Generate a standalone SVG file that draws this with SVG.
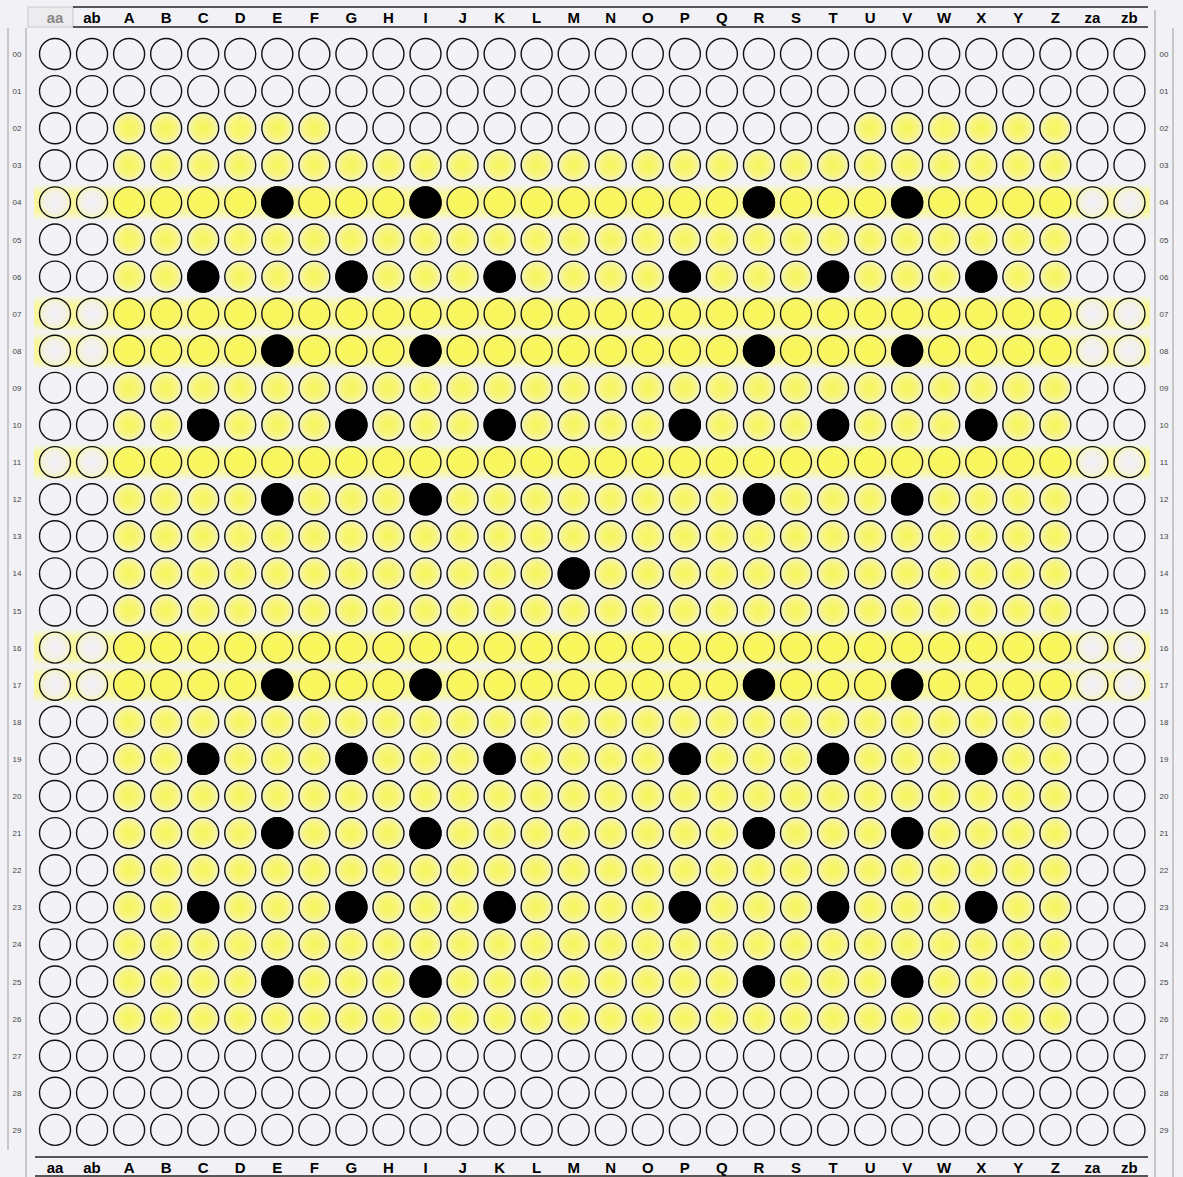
<svg xmlns="http://www.w3.org/2000/svg" xmlns:xlink="http://www.w3.org/1999/xlink" width="1183" height="1177" viewBox="0 0 1183 1177">
<style>
.w{fill:#f3f2f7;stroke:#111;stroke-width:1.4}
.y{fill:url(#gy);stroke:#111;stroke-width:1.4}
.h{fill:url(#gh);stroke:#111;stroke-width:1.4}
.he{fill:url(#ghe);stroke:#111;stroke-width:1.4}
.b{fill:#000;stroke:#000;stroke-width:1.4}
.cl{font-family:"Liberation Sans",Arial,sans-serif;font-weight:bold;font-size:15px;text-anchor:middle;fill:#000}
.rl{font-family:"Liberation Sans",Arial,sans-serif;font-size:8px;text-anchor:middle;fill:#444}
.ln{stroke:#222;stroke-width:1.5;fill:none}
.lg{stroke:#aaa;stroke-width:1.2;fill:none}
</style>
<defs>
<radialGradient id="gy" cx="0.5" cy="0.5" r="0.5">
<stop offset="0" stop-color="#f7f55a"/><stop offset="0.6" stop-color="#f7f57a"/><stop offset="1" stop-color="#f3f2c4"/>
</radialGradient>
<radialGradient id="gh" cx="0.5" cy="0.5" r="0.5">
<stop offset="0" stop-color="#f8f654"/><stop offset="1" stop-color="#f8f66a"/>
</radialGradient>
<radialGradient id="ghe" cx="0.5" cy="0.5" r="0.5">
<stop offset="0" stop-color="#f0eef9"/><stop offset="0.7" stop-color="#f3f1e4"/><stop offset="1" stop-color="#f6f5b8"/>
</radialGradient>
<linearGradient id="band" x1="0" y1="0" x2="0" y2="1">
<stop offset="0" stop-color="#f8f8b0" stop-opacity="0"/><stop offset="0.25" stop-color="#f8f7a0"/><stop offset="0.75" stop-color="#f8f7a0"/><stop offset="1" stop-color="#f8f8b0" stop-opacity="0"/>
</linearGradient>
<g id="rowW">
<circle class="w" cx="55" cy="0" r="15.5"/><circle class="w" cx="92.05" cy="0" r="15.5"/><circle class="w" cx="129.1" cy="0" r="15.5"/><circle class="w" cx="166.15" cy="0" r="15.5"/><circle class="w" cx="203.2" cy="0" r="15.5"/><circle class="w" cx="240.25" cy="0" r="15.5"/><circle class="w" cx="277.3" cy="0" r="15.5"/><circle class="w" cx="314.35" cy="0" r="15.5"/><circle class="w" cx="351.4" cy="0" r="15.5"/><circle class="w" cx="388.45" cy="0" r="15.5"/><circle class="w" cx="425.5" cy="0" r="15.5"/><circle class="w" cx="462.55" cy="0" r="15.5"/><circle class="w" cx="499.6" cy="0" r="15.5"/><circle class="w" cx="536.65" cy="0" r="15.5"/><circle class="w" cx="573.7" cy="0" r="15.5"/><circle class="w" cx="610.75" cy="0" r="15.5"/><circle class="w" cx="647.8" cy="0" r="15.5"/><circle class="w" cx="684.85" cy="0" r="15.5"/><circle class="w" cx="721.9" cy="0" r="15.5"/><circle class="w" cx="758.95" cy="0" r="15.5"/><circle class="w" cx="796" cy="0" r="15.5"/><circle class="w" cx="833.05" cy="0" r="15.5"/><circle class="w" cx="870.1" cy="0" r="15.5"/><circle class="w" cx="907.15" cy="0" r="15.5"/><circle class="w" cx="944.2" cy="0" r="15.5"/><circle class="w" cx="981.25" cy="0" r="15.5"/><circle class="w" cx="1018.3" cy="0" r="15.5"/><circle class="w" cx="1055.35" cy="0" r="15.5"/><circle class="w" cx="1092.4" cy="0" r="15.5"/><circle class="w" cx="1129.45" cy="0" r="15.5"/>
</g>
<g id="row02">
<circle class="w" cx="55" cy="0" r="15.5"/><circle class="w" cx="92.05" cy="0" r="15.5"/><circle class="y" cx="129.1" cy="0" r="15.5"/><circle class="y" cx="166.15" cy="0" r="15.5"/><circle class="y" cx="203.2" cy="0" r="15.5"/><circle class="y" cx="240.25" cy="0" r="15.5"/><circle class="y" cx="277.3" cy="0" r="15.5"/><circle class="y" cx="314.35" cy="0" r="15.5"/><circle class="w" cx="351.4" cy="0" r="15.5"/><circle class="w" cx="388.45" cy="0" r="15.5"/><circle class="w" cx="425.5" cy="0" r="15.5"/><circle class="w" cx="462.55" cy="0" r="15.5"/><circle class="w" cx="499.6" cy="0" r="15.5"/><circle class="w" cx="536.65" cy="0" r="15.5"/><circle class="w" cx="573.7" cy="0" r="15.5"/><circle class="w" cx="610.75" cy="0" r="15.5"/><circle class="w" cx="647.8" cy="0" r="15.5"/><circle class="w" cx="684.85" cy="0" r="15.5"/><circle class="w" cx="721.9" cy="0" r="15.5"/><circle class="w" cx="758.95" cy="0" r="15.5"/><circle class="w" cx="796" cy="0" r="15.5"/><circle class="w" cx="833.05" cy="0" r="15.5"/><circle class="y" cx="870.1" cy="0" r="15.5"/><circle class="y" cx="907.15" cy="0" r="15.5"/><circle class="y" cx="944.2" cy="0" r="15.5"/><circle class="y" cx="981.25" cy="0" r="15.5"/><circle class="y" cx="1018.3" cy="0" r="15.5"/><circle class="y" cx="1055.35" cy="0" r="15.5"/><circle class="w" cx="1092.4" cy="0" r="15.5"/><circle class="w" cx="1129.45" cy="0" r="15.5"/>
</g>
<g id="rowY">
<circle class="w" cx="55" cy="0" r="15.5"/><circle class="w" cx="92.05" cy="0" r="15.5"/><circle class="y" cx="129.1" cy="0" r="15.5"/><circle class="y" cx="166.15" cy="0" r="15.5"/><circle class="y" cx="203.2" cy="0" r="15.5"/><circle class="y" cx="240.25" cy="0" r="15.5"/><circle class="y" cx="277.3" cy="0" r="15.5"/><circle class="y" cx="314.35" cy="0" r="15.5"/><circle class="y" cx="351.4" cy="0" r="15.5"/><circle class="y" cx="388.45" cy="0" r="15.5"/><circle class="y" cx="425.5" cy="0" r="15.5"/><circle class="y" cx="462.55" cy="0" r="15.5"/><circle class="y" cx="499.6" cy="0" r="15.5"/><circle class="y" cx="536.65" cy="0" r="15.5"/><circle class="y" cx="573.7" cy="0" r="15.5"/><circle class="y" cx="610.75" cy="0" r="15.5"/><circle class="y" cx="647.8" cy="0" r="15.5"/><circle class="y" cx="684.85" cy="0" r="15.5"/><circle class="y" cx="721.9" cy="0" r="15.5"/><circle class="y" cx="758.95" cy="0" r="15.5"/><circle class="y" cx="796" cy="0" r="15.5"/><circle class="y" cx="833.05" cy="0" r="15.5"/><circle class="y" cx="870.1" cy="0" r="15.5"/><circle class="y" cx="907.15" cy="0" r="15.5"/><circle class="y" cx="944.2" cy="0" r="15.5"/><circle class="y" cx="981.25" cy="0" r="15.5"/><circle class="y" cx="1018.3" cy="0" r="15.5"/><circle class="y" cx="1055.35" cy="0" r="15.5"/><circle class="w" cx="1092.4" cy="0" r="15.5"/><circle class="w" cx="1129.45" cy="0" r="15.5"/>
</g>
<g id="rowH">
<rect x="34" y="-19" width="1116" height="38" fill="url(#band)"/>
<circle class="he" cx="55" cy="0" r="15.5"/><circle class="he" cx="92.05" cy="0" r="15.5"/><circle class="h" cx="129.1" cy="0" r="15.5"/><circle class="h" cx="166.15" cy="0" r="15.5"/><circle class="h" cx="203.2" cy="0" r="15.5"/><circle class="h" cx="240.25" cy="0" r="15.5"/><circle class="h" cx="277.3" cy="0" r="15.5"/><circle class="h" cx="314.35" cy="0" r="15.5"/><circle class="h" cx="351.4" cy="0" r="15.5"/><circle class="h" cx="388.45" cy="0" r="15.5"/><circle class="h" cx="425.5" cy="0" r="15.5"/><circle class="h" cx="462.55" cy="0" r="15.5"/><circle class="h" cx="499.6" cy="0" r="15.5"/><circle class="h" cx="536.65" cy="0" r="15.5"/><circle class="h" cx="573.7" cy="0" r="15.5"/><circle class="h" cx="610.75" cy="0" r="15.5"/><circle class="h" cx="647.8" cy="0" r="15.5"/><circle class="h" cx="684.85" cy="0" r="15.5"/><circle class="h" cx="721.9" cy="0" r="15.5"/><circle class="h" cx="758.95" cy="0" r="15.5"/><circle class="h" cx="796" cy="0" r="15.5"/><circle class="h" cx="833.05" cy="0" r="15.5"/><circle class="h" cx="870.1" cy="0" r="15.5"/><circle class="h" cx="907.15" cy="0" r="15.5"/><circle class="h" cx="944.2" cy="0" r="15.5"/><circle class="h" cx="981.25" cy="0" r="15.5"/><circle class="h" cx="1018.3" cy="0" r="15.5"/><circle class="h" cx="1055.35" cy="0" r="15.5"/><circle class="he" cx="1092.4" cy="0" r="15.5"/><circle class="he" cx="1129.45" cy="0" r="15.5"/>
</g>
<g id="bEIRV">
<circle class="b" cx="277.3" cy="0" r="15.5"/><circle class="b" cx="425.5" cy="0" r="15.5"/><circle class="b" cx="758.95" cy="0" r="15.5"/><circle class="b" cx="907.15" cy="0" r="15.5"/>
</g>
<g id="bCGKPTX">
<circle class="b" cx="203.2" cy="0" r="15.5"/><circle class="b" cx="351.4" cy="0" r="15.5"/><circle class="b" cx="499.6" cy="0" r="15.5"/><circle class="b" cx="684.85" cy="0" r="15.5"/><circle class="b" cx="833.05" cy="0" r="15.5"/><circle class="b" cx="981.25" cy="0" r="15.5"/>
</g>
</defs>
<rect width="1183" height="1177" fill="#f2f2f6"/>

<g id="frame">
<rect x="28" y="7" width="45" height="20" fill="#ececef" stroke="#c8c8cc" stroke-width="1"/>
<line class="ln" x1="73" y1="7" x2="1148" y2="7"/>
<line class="ln" x1="73" y1="27" x2="1148" y2="27"/>
<line class="lg" x1="1155" y1="10" x2="1155" y2="1177"/>
<line class="lg" x1="1173" y1="28" x2="1173" y2="1177"/>
<line class="lg" x1="8" y1="28" x2="8" y2="1150"/>
<line class="lg" x1="26" y1="28" x2="26" y2="1177"/>
<line class="ln" x1="35" y1="1157" x2="1148" y2="1157"/>
<line class="ln" x1="35" y1="1176" x2="1148" y2="1176"/>
</g>

<g id="plate">
<use id="r00" href="#rowW" y="54"/>
<use id="r01" href="#rowW" y="91.1"/>
<use id="r02" href="#row02" y="128.2"/>
<use id="r03" href="#rowY" y="165.3"/>
<use id="r04" href="#rowH" y="202.4"/>
<use id="r05" href="#rowY" y="239.5"/>
<use id="r06" href="#rowY" y="276.6"/>
<use id="r07" href="#rowH" y="313.7"/>
<use id="r08" href="#rowH" y="350.8"/>
<use id="r09" href="#rowY" y="387.9"/>
<use id="r10" href="#rowY" y="425"/>
<use id="r11" href="#rowH" y="462.1"/>
<use id="r12" href="#rowY" y="499.2"/>
<use id="r13" href="#rowY" y="536.3"/>
<use id="r14" href="#rowY" y="573.4"/>
<use id="r15" href="#rowY" y="610.5"/>
<use id="r16" href="#rowH" y="647.6"/>
<use id="r17" href="#rowH" y="684.7"/>
<use id="r18" href="#rowY" y="721.8"/>
<use id="r19" href="#rowY" y="758.9"/>
<use id="r20" href="#rowY" y="796"/>
<use id="r21" href="#rowY" y="833.1"/>
<use id="r22" href="#rowY" y="870.2"/>
<use id="r23" href="#rowY" y="907.3"/>
<use id="r24" href="#rowY" y="944.4"/>
<use id="r25" href="#rowY" y="981.5"/>
<use id="r26" href="#rowY" y="1018.6"/>
<use id="r27" href="#rowW" y="1055.7"/>
<use id="r28" href="#rowW" y="1092.8"/>
<use id="r29" href="#rowW" y="1129.9"/>
</g>

<g id="black">
<use href="#bEIRV" y="202.4"/>
<use href="#bCGKPTX" y="276.6"/>
<use href="#bEIRV" y="350.8"/>
<use href="#bCGKPTX" y="425"/>
<use href="#bEIRV" y="499.2"/>
<circle class="b" cx="573.7" cy="573.4" r="15.5"/>
<use href="#bEIRV" y="684.7"/>
<use href="#bCGKPTX" y="758.9"/>
<use href="#bEIRV" y="833.1"/>
<use href="#bCGKPTX" y="907.3"/>
<use href="#bEIRV" y="981.5"/>
</g>

<g id="colLabelsTop" class="cl">
<text x="55" y="22.5" fill="#777" style="fill:#888">aa</text><text x="92.05" y="22.5">ab</text><text x="129.1" y="22.5">A</text><text x="166.15" y="22.5">B</text><text x="203.2" y="22.5">C</text><text x="240.25" y="22.5">D</text><text x="277.3" y="22.5">E</text><text x="314.35" y="22.5">F</text><text x="351.4" y="22.5">G</text><text x="388.45" y="22.5">H</text><text x="425.5" y="22.5">I</text><text x="462.55" y="22.5">J</text><text x="499.6" y="22.5">K</text><text x="536.65" y="22.5">L</text><text x="573.7" y="22.5">M</text><text x="610.75" y="22.5">N</text><text x="647.8" y="22.5">O</text><text x="684.85" y="22.5">P</text><text x="721.9" y="22.5">Q</text><text x="758.95" y="22.5">R</text><text x="796" y="22.5">S</text><text x="833.05" y="22.5">T</text><text x="870.1" y="22.5">U</text><text x="907.15" y="22.5">V</text><text x="944.2" y="22.5">W</text><text x="981.25" y="22.5">X</text><text x="1018.3" y="22.5">Y</text><text x="1055.35" y="22.5">Z</text><text x="1092.4" y="22.5">za</text><text x="1129.45" y="22.5">zb</text>
</g>
<g id="colLabelsBottom" class="cl">
<text x="55" y="1173">aa</text><text x="92.05" y="1173">ab</text><text x="129.1" y="1173">A</text><text x="166.15" y="1173">B</text><text x="203.2" y="1173">C</text><text x="240.25" y="1173">D</text><text x="277.3" y="1173">E</text><text x="314.35" y="1173">F</text><text x="351.4" y="1173">G</text><text x="388.45" y="1173">H</text><text x="425.5" y="1173">I</text><text x="462.55" y="1173">J</text><text x="499.6" y="1173">K</text><text x="536.65" y="1173">L</text><text x="573.7" y="1173">M</text><text x="610.75" y="1173">N</text><text x="647.8" y="1173">O</text><text x="684.85" y="1173">P</text><text x="721.9" y="1173">Q</text><text x="758.95" y="1173">R</text><text x="796" y="1173">S</text><text x="833.05" y="1173">T</text><text x="870.1" y="1173">U</text><text x="907.15" y="1173">V</text><text x="944.2" y="1173">W</text><text x="981.25" y="1173">X</text><text x="1018.3" y="1173">Y</text><text x="1055.35" y="1173">Z</text><text x="1092.4" y="1173">za</text><text x="1129.45" y="1173">zb</text>
</g>
<g id="rowLabelsLeft" class="rl">
<text x="17" y="57">00</text><text x="17" y="94.1">01</text><text x="17" y="131.2">02</text><text x="17" y="168.3">03</text><text x="17" y="205.4">04</text><text x="17" y="242.5">05</text><text x="17" y="279.6">06</text><text x="17" y="316.7">07</text><text x="17" y="353.8">08</text><text x="17" y="390.9">09</text><text x="17" y="428">10</text><text x="17" y="465.1">11</text><text x="17" y="502.2">12</text><text x="17" y="539.3">13</text><text x="17" y="576.4">14</text><text x="17" y="613.5">15</text><text x="17" y="650.6">16</text><text x="17" y="687.7">17</text><text x="17" y="724.8">18</text><text x="17" y="761.9">19</text><text x="17" y="799">20</text><text x="17" y="836.1">21</text><text x="17" y="873.2">22</text><text x="17" y="910.3">23</text><text x="17" y="947.4">24</text><text x="17" y="984.5">25</text><text x="17" y="1021.6">26</text><text x="17" y="1058.7">27</text><text x="17" y="1095.8">28</text><text x="17" y="1132.9">29</text>
</g>
<g id="rowLabelsRight" class="rl">
<text x="1164" y="57">00</text><text x="1164" y="94.1">01</text><text x="1164" y="131.2">02</text><text x="1164" y="168.3">03</text><text x="1164" y="205.4">04</text><text x="1164" y="242.5">05</text><text x="1164" y="279.6">06</text><text x="1164" y="316.7">07</text><text x="1164" y="353.8">08</text><text x="1164" y="390.9">09</text><text x="1164" y="428">10</text><text x="1164" y="465.1">11</text><text x="1164" y="502.2">12</text><text x="1164" y="539.3">13</text><text x="1164" y="576.4">14</text><text x="1164" y="613.5">15</text><text x="1164" y="650.6">16</text><text x="1164" y="687.7">17</text><text x="1164" y="724.8">18</text><text x="1164" y="761.9">19</text><text x="1164" y="799">20</text><text x="1164" y="836.1">21</text><text x="1164" y="873.2">22</text><text x="1164" y="910.3">23</text><text x="1164" y="947.4">24</text><text x="1164" y="984.5">25</text><text x="1164" y="1021.6">26</text><text x="1164" y="1058.7">27</text><text x="1164" y="1095.8">28</text><text x="1164" y="1132.9">29</text>
</g>
</svg>
